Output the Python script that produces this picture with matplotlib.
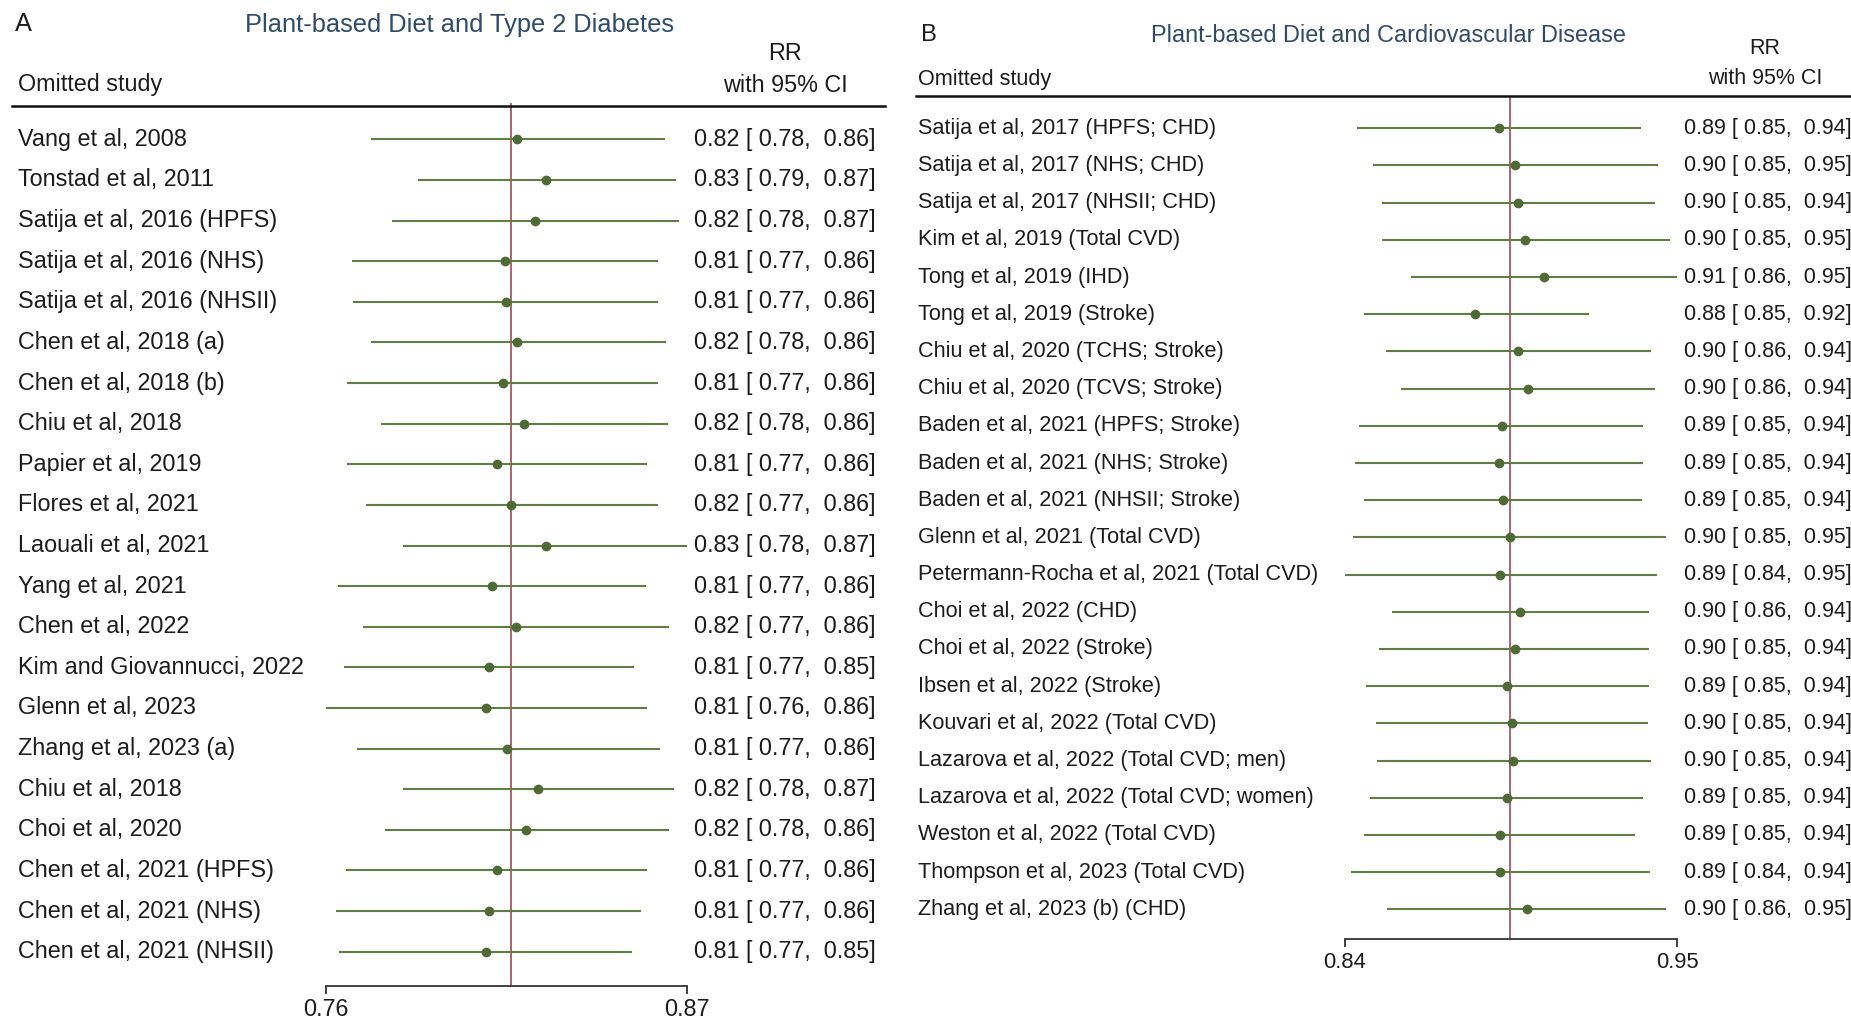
import matplotlib
matplotlib.use("Agg")
import matplotlib.pyplot as plt
from matplotlib import transforms
from matplotlib.lines import Line2D
from matplotlib.ticker import FixedLocator, FixedFormatter, NullLocator

plt.rcParams['font.family'] = ['Liberation Sans', 'DejaVu Sans']

# ---- Panel A: leave-one-out, plant-based diet and type 2 diabetes ----
t2d_studies = [
    "Vang et al, 2008", "Tonstad et al, 2011", "Satija et al, 2016 (HPFS)",
    "Satija et al, 2016 (NHS)", "Satija et al, 2016 (NHSII)", "Chen et al, 2018 (a)",
    "Chen et al, 2018 (b)", "Chiu et al, 2018", "Papier et al, 2019", "Flores et al, 2021",
    "Laouali et al, 2021", "Yang et al, 2021", "Chen et al, 2022",
    "Kim and Giovannucci, 2022", "Glenn et al, 2023", "Zhang et al, 2023 (a)",
    "Chiu et al, 2018", "Choi et al, 2020", "Chen et al, 2021 (HPFS)",
    "Chen et al, 2021 (NHS)", "Chen et al, 2021 (NHSII)",
]
t2d_rr = [0.8179, 0.8265, 0.8232, 0.8141, 0.8146, 0.8179, 0.8135, 0.8197, 0.8119, 0.8161,
          0.8265, 0.8103, 0.8176, 0.8094, 0.8087, 0.8148, 0.8241, 0.8205, 0.8119, 0.8095, 0.8086]
t2d_lo = [0.7756, 0.7888, 0.7814, 0.7702, 0.7706, 0.7756, 0.7689, 0.7784, 0.7689, 0.7742,
          0.7845, 0.7663, 0.7734, 0.7679, 0.7630, 0.7716, 0.7847, 0.7796, 0.7686, 0.7658, 0.7667]
t2d_hi = [0.8628, 0.8662, 0.8673, 0.8607, 0.8607, 0.8633, 0.8607, 0.8638, 0.8573, 0.8607,
          0.8698, 0.8569, 0.8642, 0.8533, 0.8573, 0.8612, 0.8657, 0.8640, 0.8573, 0.8554, 0.8525]
t2d_pooled = 0.8160

# ---- Panel B: leave-one-out, plant-based diet and cardiovascular disease ----
cvd_studies = [
    "Satija et al, 2017 (HPFS; CHD)", "Satija et al, 2017 (NHS; CHD)",
    "Satija et al, 2017 (NHSII; CHD)", "Kim et al, 2019 (Total CVD)",
    "Tong et al, 2019 (IHD)", "Tong et al, 2019 (Stroke)",
    "Chiu et al, 2020 (TCHS; Stroke)", "Chiu et al, 2020 (TCVS; Stroke)",
    "Baden et al, 2021 (HPFS; Stroke)", "Baden et al, 2021 (NHS; Stroke)",
    "Baden et al, 2021 (NHSII; Stroke)", "Glenn et al, 2021 (Total CVD)",
    "Petermann-Rocha et al, 2021 (Total CVD)", "Choi et al, 2022 (CHD)",
    "Choi et al, 2022 (Stroke)", "Ibsen et al, 2022 (Stroke)",
    "Kouvari et al, 2022 (Total CVD)", "Lazarova et al, 2022 (Total CVD; men)",
    "Lazarova et al, 2022 (Total CVD; women)", "Weston et al, 2022 (Total CVD)",
    "Thompson et al, 2023 (Total CVD)", "Zhang et al, 2023 (b) (CHD)",
]
cvd_rr = [0.8920, 0.8972, 0.8981, 0.9006, 0.9068, 0.8841, 0.8981, 0.9014, 0.8928, 0.8919, 0.8933,
          0.8957, 0.8924, 0.8990, 0.8972, 0.8947, 0.8962, 0.8967, 0.8947, 0.8923, 0.8923, 0.9011]
cvd_lo = [0.8465, 0.8515, 0.8543, 0.8543, 0.8634, 0.8487, 0.8556, 0.8603, 0.8473, 0.8459, 0.8487,
          0.8454, 0.8428, 0.8574, 0.8533, 0.8493, 0.8524, 0.8529, 0.8506, 0.8487, 0.8446, 0.8560]
cvd_hi = [0.9397, 0.9458, 0.9446, 0.9499, 0.9524, 0.9218, 0.9433, 0.9446, 0.9406, 0.9406, 0.9402,
          0.9485, 0.9452, 0.9427, 0.9427, 0.9427, 0.9423, 0.9433, 0.9406, 0.9377, 0.9429, 0.9485]
cvd_pooled = 0.8956

W, H = 1851, 1018
CI_COLOR = "#5f7d45"
DOT_COLOR = "#4f6a34"
REF_COLOR = "#9a4d55"
TITLE_COLOR = "#2f4a6b"
TEXT_COLOR = "#1c1c1c"

fig = plt.figure(figsize=(W / 100, H / 100), dpi=100)
fig.patch.set_facecolor("white")


def fx(x):
    return x / W


def fy(y):
    return 1 - y / H


def draw_panel(studies, rr, lo, hi, pooled, letter, title, layout):
    n = len(studies)
    y0, step = layout["row0"], layout["step"]
    top, bottom = layout["top"], layout["axis_y"]
    ax = fig.add_axes([fx(layout["ax_left"]), fy(bottom),
                       fx(layout["ax_right"]) - fx(layout["ax_left"]),
                       (bottom - top) / H])
    ax.set_xscale("log")
    xmin, xmax = min(lo), max(hi)
    ax.set_xlim(xmin, xmax)
    ax.set_ylim((bottom - y0) / step, (top - y0) / step)
    ax.patch.set_alpha(0)
    for s in ("top", "right", "left"):
        ax.spines[s].set_visible(False)
    ax.spines["bottom"].set_color("#333333")
    ax.spines["bottom"].set_linewidth(1.3)
    ax.yaxis.set_major_locator(NullLocator())
    ax.xaxis.set_minor_locator(NullLocator())
    ax.xaxis.set_major_locator(FixedLocator([xmin, xmax]))
    ax.xaxis.set_major_formatter(FixedFormatter([f"{xmin:.2f}", f"{xmax:.2f}"]))
    ax.tick_params(axis="x", direction="out", length=6, width=1.3, color="#333333",
                   labelsize=layout["tick_fs"], labelcolor=TEXT_COLOR, pad=3)

    ax.axvline(pooled, color=REF_COLOR, lw=1.2, zorder=1)
    for i in range(n):
        ax.plot([lo[i], hi[i]], [i, i], color=CI_COLOR, lw=1.5, solid_capstyle="butt", zorder=2)
    ax.plot(rr, list(range(n)), "o", color=DOT_COLOR, ms=6, zorder=3)

    trans = transforms.blended_transform_factory(fig.transFigure, ax.transData)
    for i in range(n):
        ax.text(fx(layout["name_x"]), i, studies[i], transform=trans, ha="left", va="center",
                fontsize=layout["fs"], color=TEXT_COLOR, clip_on=False)
        ax.text(fx(layout["val_x"]), i, f"{rr[i]:.2f} [{lo[i]:5.2f}, {hi[i]:5.2f}]",
                transform=trans, ha="left", va="center", fontsize=layout["val_fs"],
                color=TEXT_COLOR, clip_on=False)

    # header block
    fig.text(fx(layout["letter_x"]), fy(layout["letter_y"]), letter, ha="left", va="center",
             fontsize=layout["fs"] + 1.5, color=TEXT_COLOR)
    fig.text(fx(layout["title_x"]), fy(layout["title_y"]), title, ha="center", va="center",
             fontsize=layout["title_fs"], color=TITLE_COLOR)
    fig.text(fx(layout["name_x"]), fy(layout["head2_y"]), "Omitted study", ha="left",
             va="center", fontsize=layout["fs"], color=TEXT_COLOR)
    fig.text(fx(layout["head_x"]), fy(layout["head1_y"]), "RR", ha="center", va="center",
             fontsize=layout["val_fs"], color=TEXT_COLOR)
    fig.text(fx(layout["head_x"]), fy(layout["head2_y"]), "with 95% CI", ha="center",
             va="center", fontsize=layout["val_fs"], color=TEXT_COLOR)
    fig.add_artist(Line2D([fx(layout["rule_x0"]), fx(layout["rule_x1"])],
                          [fy(layout["rule_y"]), fy(layout["rule_y"])],
                          color="#111111", lw=1.8, transform=fig.transFigure))


layout_a = dict(row0=139.3, step=40.62, top=103, axis_y=985.7, ax_left=326, ax_right=687,
                name_x=18, val_x=694, head_x=785, fs=16.8, val_fs=16.8, tick_fs=16.8,
                title_fs=18.3, letter_x=15, letter_y=24, title_x=459, title_y=25,
                head1_y=54, head2_y=85, rule_x0=12, rule_x1=885, rule_y=106)
layout_b = dict(row0=128.3, step=37.19, top=96, axis_y=939.3, ax_left=1345, ax_right=1677.3,
                name_x=918, val_x=1684, head_x=1765, fs=15.6, val_fs=15.5, tick_fs=15.8,
                title_fs=16.9, letter_x=921, letter_y=35, title_x=1388, title_y=36,
                head1_y=49, head2_y=79, rule_x0=916, rule_x1=1851, rule_y=96)

draw_panel(t2d_studies, t2d_rr, t2d_lo, t2d_hi, t2d_pooled, "A",
           "Plant-based Diet and Type 2 Diabetes", layout_a)
draw_panel(cvd_studies, cvd_rr, cvd_lo, cvd_hi, cvd_pooled, "B",
           "Plant-based Diet and Cardiovascular Disease", layout_b)

fig.savefig("out.png", dpi=100, facecolor="white")
